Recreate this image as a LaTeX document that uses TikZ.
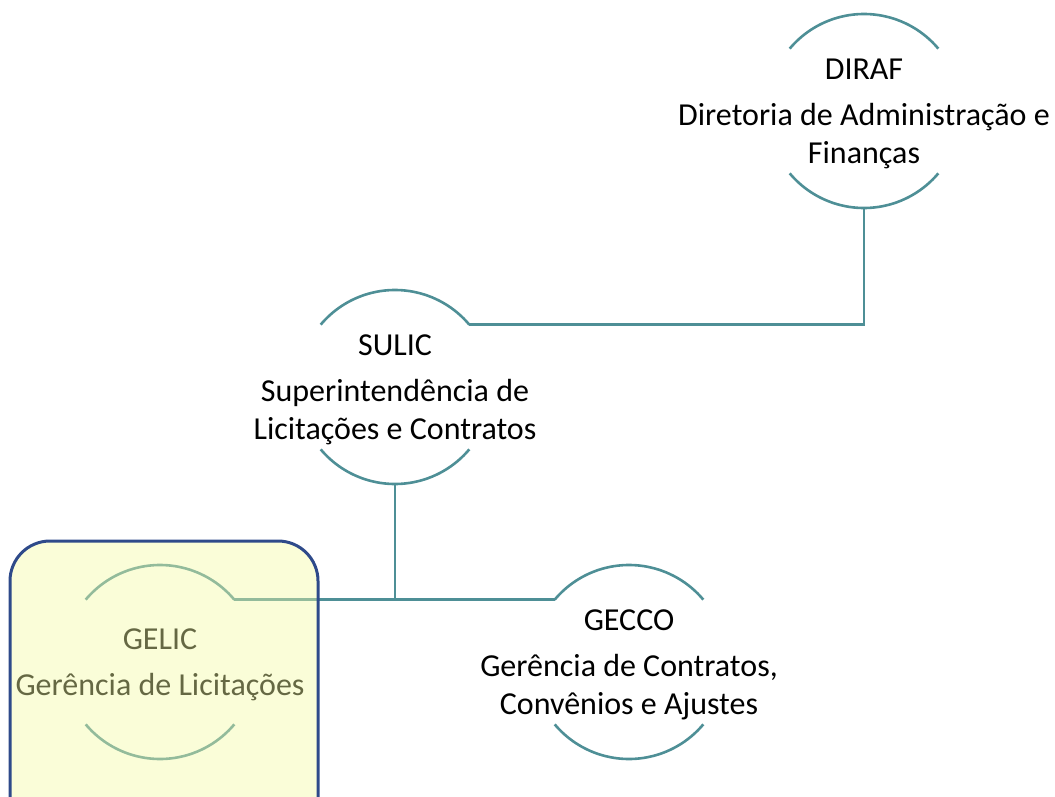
\documentclass[tikz,border=0pt]{standalone}
\usepackage{fontspec}
\setmainfont{Carlito}
\usepackage{xcolor}
\usetikzlibrary{positioning}

\definecolor{unitteal}{RGB}{78,143,150}
\definecolor{boxfill}{RGB}{243,250,162}
\definecolor{boxedge}{RGB}{46,74,138}

\tikzset{
  unit/.style={circle, minimum size=194pt, inner sep=0pt, outer sep=0pt},
  unittext/.style={align=center, yshift=-3pt, font=\fontsize{32}{38}\selectfont},
  arcline/.style={unitteal, line width=2.6pt},
  link/.style={unitteal, line width=2.6pt},
  selbox/.style={boxedge, line width=3pt, fill=boxfill, fill opacity=0.42, rounded corners=40pt},
}

\begin{document}
\begin{tikzpicture}[x=1pt,y=1pt]
    \useasboundingbox (0,0) rectangle (1055,-797);
    % units
    \node[unit] (diraf) at (864,-111) {};
    \node[unit] (sulic) at (395,-387) {};
    \node[unit] (gelic) at (160,-662) {};
    \node[unit] (gecco) at (629,-662) {};
    \node[unittext] (diraftext) at (diraf) {DIRAF\\[8pt]Diretoria de Administração e\\Finanças};
    \node[unittext] (sulictext) at (sulic) {SULIC\\[8pt]Superintendência de\\Licitações e Contratos};
    \node[unittext] (gelictext) at (gelic) {GELIC\\[8pt]Gerência de Licitações};
    \node[unittext] (geccotext) at (gecco) {GECCO\\[8pt]Gerência de Contratos,\\Convênios e Ajustes};
    \foreach \n in {diraf,sulic,gelic,gecco}{
        \draw[arcline] (\n.140) arc[start angle=140, end angle=40, radius=97pt];
        \draw[arcline] (\n.220) arc[start angle=220, end angle=320, radius=97pt];
    }
    % links
    \draw[link] (diraf.south) |- (sulic.40);
    \draw[link] (sulic.south) -- (sulic.south |- gelic.40);
    \draw[link] (gelic.40) -- (gecco.140);
    % selected unit
    \draw[selbox] (10,-541) rectangle (318,-840);
\end{tikzpicture}
\end{document}
